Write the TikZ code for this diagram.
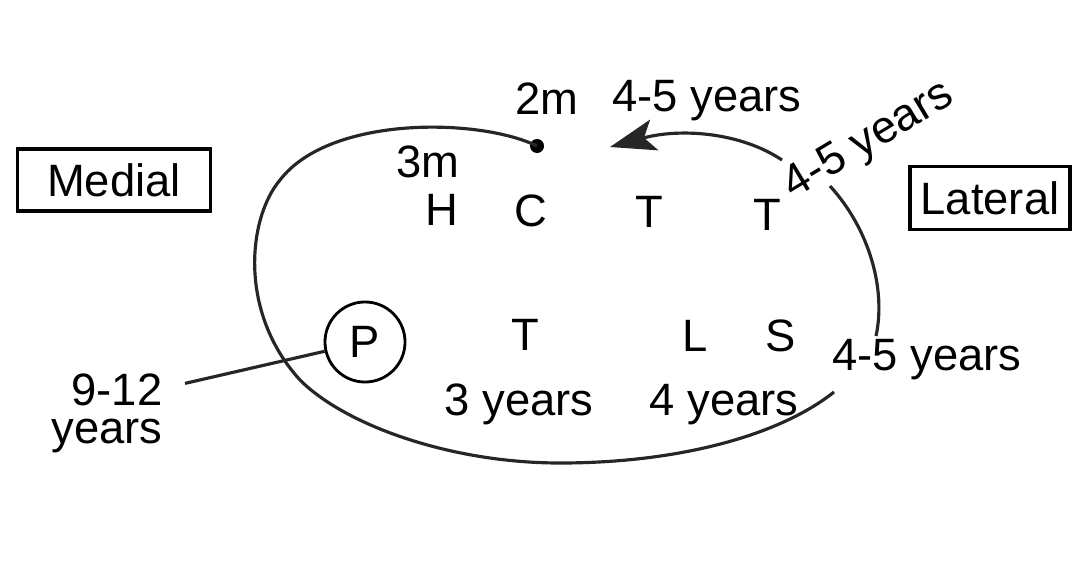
\documentclass[tikz,border=0pt]{standalone}
\usepackage{fontspec}
\setmainfont{Liberation Sans}
\usetikzlibrary{arrows.meta}

\tikzset{
    lbl/.style={font=\fontsize{12.9}{16}\selectfont, inner sep=0pt},
    sidebox/.style={lbl, draw, line width=0.9pt},
    dot/.style={circle, fill, inner sep=0pt, minimum size=0.14cm},
    loopline/.style={line width=0.9pt, black!85},
}

\begin{document}
\begin{tikzpicture}[x=0.01cm, y=-0.01cm]
        \useasboundingbox (0,0) rectangle (1080,570);
        % side labels
        \node[sidebox, minimum width=1.93cm, minimum height=0.62cm] (medial) at (114,180) {Medial};
        \node[sidebox, minimum width=1.6cm, minimum height=0.63cm] (lateral) at (990,198) {Lateral};
        % upper row
        \node[lbl, anchor=base] (H) at (442,225) {H};
        \node[lbl, anchor=base] (C) at (531,226) {C};
        \node[lbl, anchor=base] (T1) at (649,227) {T};
        \node[lbl, anchor=base] (T2) at (767,230) {T};
        \node[lbl, anchor=base] (twom) at (547,115) {2m};
        \node[lbl, anchor=base] (threem) at (428,177) {3m};
        \node[lbl, anchor=base] (topyears) at (707,112) {4-5 years};
        \node[lbl, anchor=base west, rotate=31] (slantyears) at (793,200) {4-5 years};
        % lower row
        \node[lbl, draw, circle, line width=0.8pt, minimum size=0.8cm] (P) at (365,342) {P};
        \node[lbl, anchor=base] (T3) at (525,350) {T};
        \node[lbl, anchor=base] (L) at (695,351) {L};
        \node[lbl, anchor=base] (S) at (781,351) {S};
        \node[lbl, anchor=base] (threeyears) at (519,415) {3 years};
        \node[lbl, anchor=base] (fouryears) at (724,415) {4 years};
        \node[lbl, anchor=base] (rightyears) at (927,370) {4-5 years};
        \node[lbl, anchor=base east] (nine) at (163,405) {9-12};
        \node[lbl, anchor=base east] (nineyrs) at (163,443) {years};
        \draw[loopline] ([shift={(0.22cm,0.06cm)}]nine.east) -- (P);
        % the loop
        \node[dot] (dot) at (537,146) {};
        \coordinate (gapA) at (834,392);
        \coordinate (gapB) at (876,336);
        \coordinate (gapC) at (830,186);
        \coordinate (gapD) at (782,160);
        \coordinate (tip) at (610,147);
        \draw[loopline] (dot.center) .. controls (480,118) and (330,115) .. (280,180)
            .. controls (248,218) and (238,312) .. (300,380)
            .. controls (345,425) and (450,463) .. (560,463)
            .. controls (680,463) and (780,435) .. (gapA);
        \draw[loopline] (gapB) .. controls (886,290) and (870,230) .. (gapC);
        \draw[loopline, -{Stealth[length=13pt, width=9pt, inset=3pt]}] (gapD)
            .. controls (740,132) and (680,128) .. (tip);
\end{tikzpicture}
\end{document}
